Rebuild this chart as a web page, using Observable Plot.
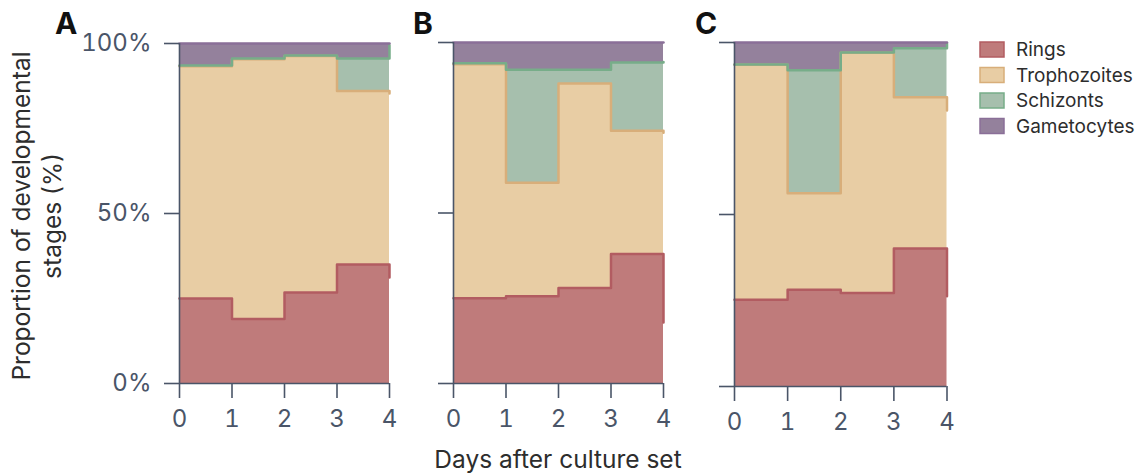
<!DOCTYPE html>
<html>
<head>
<meta charset="utf-8">
<script src="https://cdn.jsdelivr.net/npm/d3@7"></script>
<script src="https://cdn.jsdelivr.net/npm/@observablehq/plot@0.6"></script>
<style>
  html, body { margin: 0; padding: 0; background: #fff; }
  #chart { position: relative; width: 1142px; height: 475px; overflow: hidden; font-family: Inter, "Noto Sans", sans-serif; }
  #chart > svg { position: absolute; top: 0; }
</style>
</head>
<body>
<div id="chart"></div>
<script>
// Days after the culture was set
const days = [0, 1, 2, 3, 4];
const stages = ["Rings", "Trophozoites", "Schizonts", "Gametocytes"];

// Share of each developmental stage (%) per day, culture A
const ringsA        = [25.0, 19.0, 26.8, 35.0, 31.2];
const trophozoitesA = [68.3, 76.4, 69.5, 51.0, 54.1];
const schizontsA    = [0.2, 0.2, 0.2, 9.6, 14.2];
const gametocytesA  = [6.5, 4.4, 3.5, 4.4, 0.5];

// Culture B
const ringsB        = [25.0, 25.6, 28.0, 38.0, 17.9];
const trophozoitesB = [68.6, 33.3, 60.0, 36.1, 55.6];
const schizontsB    = [0.3, 33.1, 4.0, 20.0, 20.8];
const gametocytesB  = [6.1, 8.0, 8.0, 5.9, 5.7];

// Culture C
const ringsC        = [25.2, 28.1, 27.2, 40.1, 26.2];
const trophozoitesC = [68.3, 28.1, 69.8, 44.0, 54.0];
const schizontsC    = [0.1, 35.7, 0.1, 14.2, 19.6];
const gametocytesC  = [6.4, 8.1, 2.9, 1.7, 0.2];

const yTicks = [0, 50, 100];

// Colours per stage
const fillOf   = {Rings: "#bf7b7b", Trophozoites: "#e8cda4", Schizonts: "#a6bfad", Gametocytes: "#94819c"};
const strokeOf = {Rings: "#b25c61", Trophozoites: "#d8ae7a", Schizonts: "#77ad89", Gametocytes: "#8a6f98"};

const panels = [
  {name: "A", series: [ringsA, trophozoitesA, schizontsA, gametocytesA]},
  {name: "B", series: [ringsB, trophozoitesB, schizontsB, gametocytesB]},
  {name: "C", series: [ringsC, trophozoitesC, schizontsC, gametocytesC]}
];

// Placement of each panel's svg inside the figure
const layout = {
  A: {left: 0,   width: 400, marginLeft: 179, marginRight: 11,   marginTop: 43, marginBottom: 92, labels: true},
  B: {left: 400, width: 280, marginLeft: 53,  marginRight: 17,   marginTop: 42, marginBottom: 92, labels: false},
  C: {left: 680, width: 290, marginLeft: 54,  marginRight: 23.5, marginTop: 42, marginBottom: 89, labels: false}
};

const axisColor = "#4a5568";
const chart = document.getElementById("chart");

for (const panel of panels) {
  const rows = [];
  stages.forEach((stage, s) => {
    days.forEach((day, i) => rows.push({stage, day, value: panel.series[s][i]}));
  });
  const L = layout[panel.name];
  const svg = Plot.plot({
    width: L.width,
    height: 475,
    marginLeft: L.marginLeft,
    marginRight: L.marginRight,
    marginTop: L.marginTop,
    marginBottom: L.marginBottom,
    style: {fontFamily: "Inter, 'Noto Sans', sans-serif", fontSize: "24px", color: axisColor, background: "transparent", overflow: "visible"},
    x: {domain: [0, 4]},
    y: {domain: [0, 100]},
    color: {type: "identity"},
    marks: [
      Plot.areaY(rows, {x: "day", y: "value", z: "stage", fill: d => fillOf[d.stage], curve: "step-after"}),
      Plot.lineY(rows, Plot.stackY2({x: "day", y: "value", z: "stage", stroke: d => strokeOf[d.stage], strokeWidth: 2.5, curve: "step-after"})),
      Plot.ruleY([0], {stroke: axisColor, strokeWidth: 1.6}),
      Plot.ruleX([0], {stroke: axisColor, strokeWidth: 1.6}),
      Plot.axisY({
        ticks: yTicks, tickSize: 15, tickPadding: 13, strokeWidth: 1.6, stroke: axisColor,
        tickFormat: L.labels ? (d => d + "%") : (() => ""), label: null, fontSize: 24
      }),
      Plot.axisX({
        ticks: days, tickSize: 15, tickPadding: 11, strokeWidth: 1.6, stroke: axisColor,
        tickFormat: d => String(d), label: null, fontSize: 24
      })
    ]
  });
  svg.style.left = L.left + "px";
  chart.appendChild(svg);
}

// Annotation layer: panel letters, axis titles and the stage legend
const overlay = d3.select(chart).append("svg")
  .attr("width", 1142).attr("height", 475)
  .style("left", "0px")
  .style("font-family", "Inter, 'Noto Sans', sans-serif");

const letters = [{t: "A", x: 55, y: 34}, {t: "B", x: 413, y: 34}, {t: "C", x: 695, y: 34}];
overlay.selectAll("text.letter").data(letters).join("text")
  .attr("class", "letter")
  .attr("x", d => d.x).attr("y", d => d.y)
  .attr("font-size", 30).attr("font-weight", 700).attr("fill", "#111")
  .text(d => d.t);

const yTitle = ["Proportion of developmental", "stages (%)"];
overlay.selectAll("text.ytitle").data(yTitle).join("text")
  .attr("class", "ytitle")
  .attr("transform", (d, i) => `translate(${30 + i * 31},216) rotate(-90)`)
  .attr("text-anchor", "middle")
  .attr("font-size", 24.5).attr("fill", "#2d2d2d")
  .text(d => d);

overlay.append("text")
  .attr("x", 558).attr("y", 468)
  .attr("text-anchor", "middle")
  .attr("font-size", 24.5).attr("fill", "#2d2d2d")
  .text("Days after culture set");

const legend = overlay.append("g").attr("transform", "translate(980,42)");
stages.forEach((stage, i) => {
  const g = legend.append("g").attr("transform", `translate(0,${i * 25.5})`);
  g.append("rect").attr("x", 0).attr("y", 0).attr("width", 24).attr("height", 15)
    .attr("fill", fillOf[stage]).attr("stroke", strokeOf[stage]).attr("stroke-width", 1.5);
  g.append("text").attr("x", 36).attr("y", 14)
    .attr("font-size", 19).attr("fill", "#2d2d2d")
    .text(stage);
});
</script>
</body>
</html>
